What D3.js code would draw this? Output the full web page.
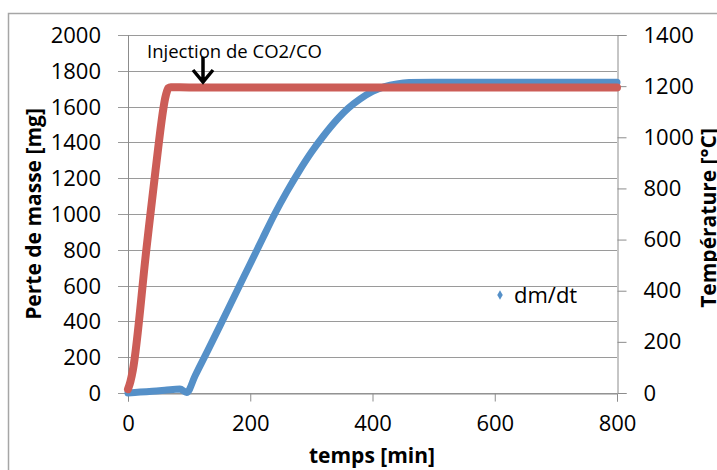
<!DOCTYPE html>
<html>
<head>
<meta charset="utf-8">
<script src="https://cdn.jsdelivr.net/npm/d3@7"></script>
<style>
body { margin: 0; background: #fff; }
text { font-family: "Open Sans", sans-serif; }
</style>
</head>
<body>
<div id="chart"></div>
<script>
// mass loss (left axis)
var time_mass = [0, 20, 40, 60, 85, 96, 110, 130, 150, 175, 200, 220, 240, 260, 280, 300, 320, 340, 360, 380, 400, 420, 440, 460, 500, 600, 700, 800];
var mass_loss = [0, 5, 10, 15, 22, 3, 98, 234, 372, 548, 722, 862, 1000, 1125, 1240, 1345, 1437, 1520, 1590, 1643, 1685, 1712, 1727, 1734, 1736, 1736, 1736, 1736];

// temperature (right axis)
var time_temp = [0, 4, 8, 30, 45, 62, 66, 70, 100, 200, 400, 600, 800];
var temperature = [15, 45, 90, 560, 870, 1165, 1192, 1196, 1195, 1195, 1195, 1195, 1195];

var x_ticks = [0, 200, 400, 600, 800];
var y_left_ticks = [0, 200, 400, 600, 800, 1000, 1200, 1400, 1600, 1800, 2000];
var y_right_ticks = [0, 200, 400, 600, 800, 1000, 1200, 1400];

var width = 717;
var height = 470;
var blue = "#5590c8";
var red = "#cc5d57";

var svg = d3.select("#chart")
    .append("svg")
    .attr("width", width)
    .attr("height", height);

// frame
svg.append("rect")
    .attr("x", 8.5)
    .attr("y", 13.5)
    .attr("width", 720)
    .attr("height", 470)
    .attr("fill", "none")
    .attr("stroke", "#a6a6a6")
    .attr("stroke-width", 1.5);

var x_scale = d3.scaleLinear().domain([0, 800]).range([128, 617]);
var y_left = d3.scaleLinear().domain([0, 2000]).range([393, 35]);
var y_right = d3.scaleLinear().domain([0, 1400]).range([393, 35]);

// gridlines (they run past the left axis like ticks)
svg.append("g")
    .selectAll("line")
    .data(y_left_ticks)
    .enter()
    .append("line")
    .attr("x1", 118)
    .attr("x2", function(d) { return d == 2000 ? 626 : 617; })
    .attr("y1", function(d) { return Math.round(y_left(d)) + 0.5; })
    .attr("y2", function(d) { return Math.round(y_left(d)) + 0.5; })
    .attr("stroke", "#9a9a9a")
    .attr("stroke-width", 1);

// axes
var x_axis = d3.axisBottom(x_scale).tickValues(x_ticks).tickSize(8).tickPadding(14);
var y_axis_right = d3.axisRight(y_right)
    .tickValues(y_right_ticks)
    .tickFormat(d3.format("d"))
    .tickSize(9)
    .tickPadding(17);

svg.append("g")
    .attr("class", "axis")
    .attr("transform", "translate(0," + 393.5 + ")")
    .call(x_axis);

svg.append("g")
    .attr("class", "axis")
    .attr("transform", "translate(" + 617.5 + ",0)")
    .call(y_axis_right);

svg.append("line")
    .attr("x1", 128.5).attr("x2", 128.5)
    .attr("y1", 35).attr("y2", 394)
    .attr("stroke", "#8c8c8c");

svg.selectAll(".axis path").attr("stroke", "#8c8c8c");
svg.selectAll(".axis line").attr("stroke", "#8c8c8c");
svg.selectAll(".axis text")
    .attr("font-family", "Open Sans")
    .attr("font-size", 22)
    .attr("fill", "#000");

svg.append("g")
    .selectAll("text")
    .data(y_left_ticks)
    .enter()
    .append("text")
    .text(function(d) { return d; })
    .attr("x", 101)
    .attr("y", function(d) { return y_left(d); })
    .attr("dy", "0.36em")
    .attr("text-anchor", "end")
    .attr("font-size", 22)
    .attr("fill", "#000");

// lines
var line_mass = d3.line()
    .x(function(d) { return x_scale(d[0]); })
    .y(function(d) { return y_left(d[1]); })
    .curve(d3.curveMonotoneX);

var line_temp = d3.line()
    .x(function(d) { return x_scale(d[0]); })
    .y(function(d) { return y_right(d[1]); })
    .curve(d3.curveMonotoneX);

svg.append("path")
    .datum(d3.zip(time_mass, mass_loss))
    .attr("d", line_mass)
    .attr("fill", "none")
    .attr("stroke", blue)
    .attr("stroke-width", 7)
    .attr("stroke-linejoin", "round")
    .attr("stroke-linecap", "round");

svg.append("path")
    .datum(d3.zip(time_temp, temperature))
    .attr("d", line_temp)
    .attr("fill", "none")
    .attr("stroke", red)
    .attr("stroke-width", 8)
    .attr("stroke-linejoin", "round")
    .attr("stroke-linecap", "round");

// annotation
svg.append("text")
    .text("Injection de CO2/CO")
    .attr("x", 147)
    .attr("y", 58)
    .attr("font-size", 18.5)
    .attr("fill", "#000");

svg.append("path")
    .attr("d", "M203,57 L203,81 M193,70 L203,82 L213,70")
    .attr("fill", "none")
    .attr("stroke", "#000")
    .attr("stroke-width", 3.5);

// legend
svg.append("path")
    .attr("d", d3.symbol().type(d3.symbolDiamond).size(26))
    .attr("transform", "translate(500,295)")
    .attr("fill", blue);

svg.append("text")
    .text("dm/dt")
    .attr("x", 514)
    .attr("y", 303)
    .attr("font-size", 22)
    .attr("fill", "#000");

// axis titles
svg.append("text")
    .text("temps [min]")
    .attr("x", 372)
    .attr("y", 463)
    .attr("text-anchor", "middle")
    .attr("font-size", 21)
    .attr("font-weight", "bold")
    .attr("fill", "#000");

svg.append("text")
    .text("Perte de masse [mg]")
    .attr("transform", "translate(41,214) rotate(-90)")
    .attr("text-anchor", "middle")
    .attr("font-size", 21)
    .attr("font-weight", "bold")
    .attr("fill", "#000");

svg.append("text")
    .text("Température [°C]")
    .attr("transform", "translate(716,218) rotate(-90)")
    .attr("text-anchor", "middle")
    .attr("font-size", 21)
    .attr("font-weight", "bold")
    .attr("fill", "#000");
</script>
</body>
</html>
